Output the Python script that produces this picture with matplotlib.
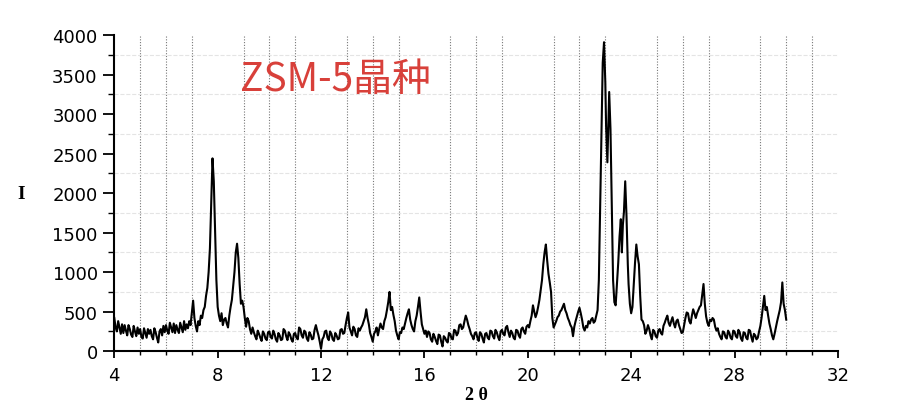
import matplotlib

matplotlib.use("Agg")
import matplotlib.pyplot as plt
import numpy as np
from matplotlib.ticker import MultipleLocator

# XRD pattern (2θ in degrees, intensity in counts)
two_theta = [
    4.0, 4.05, 4.1, 4.15, 4.2, 4.25, 4.3, 4.35, 4.4, 4.45,
    4.5, 4.55, 4.6, 4.65, 4.7, 4.75, 4.8, 4.85, 4.9, 4.95,
    5.0, 5.05, 5.1, 5.15, 5.2, 5.25, 5.3, 5.35, 5.4, 5.45,
    5.5, 5.55, 5.6, 5.65, 5.7, 5.75, 5.8, 5.85, 5.9, 5.95,
    6.0, 6.05, 6.1, 6.15, 6.2, 6.25, 6.3, 6.35, 6.4, 6.45,
    6.5, 6.55, 6.6, 6.65, 6.7, 6.75, 6.8, 6.85, 6.9, 6.95,
    7.0, 7.05, 7.1, 7.15, 7.2, 7.25, 7.3, 7.35, 7.4, 7.45,
    7.5, 7.55, 7.6, 7.65, 7.7, 7.75, 7.8, 7.85, 7.9, 7.95,
    8.0, 8.05, 8.1, 8.15, 8.2, 8.25, 8.3, 8.35, 8.4, 8.45,
    8.5, 8.55, 8.6, 8.65, 8.7, 8.75, 8.8, 8.85, 8.9, 8.95,
    9.0, 9.05, 9.1, 9.15, 9.2, 9.25, 9.3, 9.35, 9.4, 9.45,
    9.5, 9.55, 9.6, 9.65, 9.7, 9.75, 9.8, 9.85, 9.9, 9.95,
    10.0, 10.05, 10.1, 10.15, 10.2, 10.25, 10.3, 10.35, 10.4, 10.45,
    10.5, 10.55, 10.6, 10.65, 10.7, 10.75, 10.8, 10.85, 10.9, 10.95,
    11.0, 11.05, 11.1, 11.15, 11.2, 11.25, 11.3, 11.35, 11.4, 11.45,
    11.5, 11.55, 11.6, 11.65, 11.7, 11.75, 11.8, 11.85, 11.9, 11.95,
    12.0, 12.05, 12.1, 12.15, 12.2, 12.25, 12.3, 12.35, 12.4, 12.45,
    12.5, 12.55, 12.6, 12.65, 12.7, 12.75, 12.8, 12.85, 12.9, 12.95,
    13.0, 13.05, 13.1, 13.15, 13.2, 13.25, 13.3, 13.35, 13.4, 13.45,
    13.5, 13.55, 13.6, 13.65, 13.7, 13.75, 13.8, 13.85, 13.9, 13.95,
    14.0, 14.05, 14.1, 14.15, 14.2, 14.25, 14.3, 14.35, 14.4, 14.45,
    14.5, 14.55, 14.6, 14.65, 14.7, 14.75, 14.8, 14.85, 14.9, 14.95,
    15.0, 15.05, 15.1, 15.15, 15.2, 15.25, 15.3, 15.35, 15.4, 15.45,
    15.5, 15.55, 15.6, 15.65, 15.7, 15.75, 15.8, 15.85, 15.9, 15.95,
    16.0, 16.05, 16.1, 16.15, 16.2, 16.25, 16.3, 16.35, 16.4, 16.45,
    16.5, 16.55, 16.6, 16.65, 16.7, 16.75, 16.8, 16.85, 16.9, 16.95,
    17.0, 17.05, 17.1, 17.15, 17.2, 17.25, 17.3, 17.35, 17.4, 17.45,
    17.5, 17.55, 17.6, 17.65, 17.7, 17.75, 17.8, 17.85, 17.9, 17.95,
    18.0, 18.05, 18.1, 18.15, 18.2, 18.25, 18.3, 18.35, 18.4, 18.45,
    18.5, 18.55, 18.6, 18.65, 18.7, 18.75, 18.8, 18.85, 18.9, 18.95,
    19.0, 19.05, 19.1, 19.15, 19.2, 19.25, 19.3, 19.35, 19.4, 19.45,
    19.5, 19.55, 19.6, 19.65, 19.7, 19.75, 19.8, 19.85, 19.9, 19.95,
    20.0, 20.05, 20.1, 20.15, 20.2, 20.25, 20.3, 20.35, 20.4, 20.45,
    20.5, 20.55, 20.6, 20.65, 20.7, 20.75, 20.8, 20.85, 20.9, 20.95,
    21.0, 21.05, 21.1, 21.15, 21.2, 21.25, 21.3, 21.35, 21.4, 21.45,
    21.5, 21.55, 21.6, 21.65, 21.7, 21.75, 21.8, 21.85, 21.9, 21.95,
    22.0, 22.05, 22.1, 22.15, 22.2, 22.25, 22.3, 22.35, 22.4, 22.45,
    22.5, 22.55, 22.6, 22.65, 22.7, 22.75, 22.8, 22.85, 22.9, 22.95,
    23.0, 23.03, 23.08, 23.12, 23.15, 23.2, 23.25, 23.3, 23.35, 23.4,
    23.45, 23.5, 23.55, 23.6, 23.64, 23.68, 23.72, 23.77, 23.82, 23.87,
    23.9, 23.95, 24.0, 24.05, 24.1, 24.15, 24.2, 24.25, 24.3, 24.35,
    24.4, 24.45, 24.5, 24.55, 24.6, 24.65, 24.7, 24.75, 24.8, 24.85,
    24.9, 24.95, 25.0, 25.05, 25.1, 25.15, 25.2, 25.25, 25.3, 25.35,
    25.4, 25.45, 25.5, 25.55, 25.6, 25.65, 25.7, 25.75, 25.8, 25.85,
    25.9, 25.95, 26.0, 26.05, 26.1, 26.15, 26.2, 26.25, 26.3, 26.35,
    26.4, 26.45, 26.5, 26.55, 26.6, 26.65, 26.7, 26.75, 26.8, 26.85,
    26.9, 26.95, 27.0, 27.05, 27.1, 27.15, 27.2, 27.25, 27.3, 27.35,
    27.4, 27.45, 27.5, 27.55, 27.6, 27.65, 27.7, 27.75, 27.8, 27.85,
    27.9, 27.95, 28.0, 28.05, 28.1, 28.15, 28.2, 28.25, 28.3, 28.35,
    28.4, 28.45, 28.5, 28.55, 28.6, 28.65, 28.7, 28.75, 28.8, 28.85,
    28.9, 28.95, 29.0, 29.05, 29.1, 29.15, 29.2, 29.25, 29.3, 29.35,
    29.4, 29.45, 29.5, 29.55, 29.6, 29.65, 29.7, 29.75, 29.8, 29.85,
    29.9, 29.95, 30.0,
]
intensity = [
    420, 300, 250, 380, 300, 220, 340, 230, 330, 260,
    200, 330, 280, 210, 180, 320, 250, 190, 300, 220,
    280, 180, 160, 290, 230, 170, 280, 220, 270, 190,
    150, 290, 240, 170, 110, 250, 280, 200, 320, 240,
    330, 260, 220, 360, 300, 240, 350, 230, 330, 270,
    230, 360, 300, 240, 380, 270, 340, 290, 380, 330,
    480, 640, 420, 320, 250, 380, 330, 450, 420, 520,
    560, 700, 800, 1000, 1300, 1850, 2440, 2150, 1500, 900,
    560, 450, 380, 480, 330, 400, 420, 350, 300, 450,
    560, 650, 820, 1000, 1250, 1360, 1180, 850, 600, 640,
    560, 420, 310, 420, 380, 280, 220, 300, 240, 190,
    150, 260, 220, 170, 130, 250, 220, 160, 140, 240,
    250, 180, 160, 260, 220, 150, 120, 230, 200, 140,
    150, 280, 260, 190, 140, 240, 210, 150, 120, 220,
    230, 170, 150, 300, 280, 200, 170, 260, 240, 160,
    130, 240, 210, 150, 160, 270, 330, 260, 200, 120,
    30, 150, 180, 250, 260, 170, 140, 250, 220, 150,
    130, 230, 200, 150, 160, 270, 280, 220, 230, 330,
    420, 490, 300, 250, 200, 310, 280, 200, 180, 290,
    260, 300, 330, 380, 430, 530, 420, 340, 230, 180,
    120, 220, 250, 300, 200, 280, 350, 300, 280, 380,
    430, 520, 620, 750, 520, 560, 460, 380, 260, 200,
    150, 240, 230, 300, 280, 350, 420, 480, 530, 400,
    330, 280, 250, 380, 450, 560, 680, 500, 340, 280,
    220, 260, 180, 250, 230, 150, 120, 220, 180, 130,
    90, 210, 200, 120, 60, 190, 170, 130, 110, 230,
    220, 160, 150, 270, 260, 200, 230, 330, 340, 280,
    300, 380, 450, 400, 330, 280, 220, 190, 150, 230,
    240, 170, 130, 240, 220, 160, 110, 220, 230, 170,
    150, 260, 250, 190, 160, 270, 240, 180, 140, 250,
    270, 220, 200, 300, 320, 240, 180, 260, 230, 170,
    150, 270, 260, 200, 170, 280, 300, 250, 220, 310,
    330, 300, 380, 450, 580, 500, 430, 480, 560, 650,
    780, 900, 1100, 1250, 1350, 1150, 980, 870, 750, 420,
    300, 340, 380, 430, 450, 500, 520, 560, 600, 520,
    480, 420, 380, 330, 300, 190, 310, 380, 440, 500,
    550, 480, 400, 300, 260, 320, 300, 380, 350, 400,
    420, 360, 380, 450, 520, 900, 1800, 2700, 3650, 3910,
    3400, 2850, 2390, 2900, 3280, 2810, 1840, 900, 620, 580,
    850, 1120, 1450, 1670, 1250, 1600, 1760, 2150, 1710, 1100,
    850, 600, 480, 560, 850, 1120, 1350, 1200, 1100, 700,
    400, 380, 330, 220, 260, 330, 280, 200, 150, 270,
    250, 190, 170, 260, 280, 230, 210, 320, 360, 410,
    450, 360, 320, 380, 430, 350, 300, 380, 400, 330,
    280, 230, 240, 330, 420, 490, 480, 380, 350, 450,
    530, 480, 420, 480, 520, 560, 580, 720, 850, 600,
    440, 360, 320, 400, 380, 420, 400, 310, 260, 290,
    220, 180, 150, 250, 240, 180, 160, 260, 230, 170,
    150, 260, 250, 190, 170, 270, 240, 160, 130, 240,
    230, 170, 150, 270, 260, 180, 120, 220, 200, 150,
    170, 250, 320, 430, 560, 700, 520, 560, 450, 350,
    280, 200, 150, 220, 300, 380, 450, 520, 620, 870,
    600, 520, 400,
]
assert len(two_theta) == len(intensity)

TITLE = "ZSM-5晶种"
TITLE_COLOR = "#d8403a"

fig = plt.figure(figsize=(9, 4.1), dpi=100)
ax = fig.add_axes([0.127, 0.141, 0.804, 0.771])

ax.plot(np.array(two_theta), np.array(intensity), color="black", lw=1.5)

ax.set_xlim(4, 32)
ax.set_ylim(0, 4000)
ax.xaxis.set_major_locator(MultipleLocator(4))
ax.xaxis.set_minor_locator(MultipleLocator(1))
ax.yaxis.set_major_locator(MultipleLocator(500))
ax.yaxis.set_minor_locator(MultipleLocator(250))

# dotted verticals at the minor x ticks, faint horizontals at the minor y ticks
ax.xaxis.grid(True, which="minor", ls=(0, (1, 1.5)), color="#777777", lw=0.8)
ax.yaxis.grid(True, which="minor", ls="--", color="#e4e4e4", lw=0.8)
ax.set_axisbelow(True)

for side in ("top", "right"):
    ax.spines[side].set_visible(False)
for side in ("left", "bottom"):
    ax.spines[side].set_linewidth(1.5)

ax.tick_params(which="major", direction="out", length=8, width=1.3,
               labelsize=13, pad=4)
ax.tick_params(which="minor", direction="out", length=4, width=1.0)
ax.tick_params(axis="x", which="major", length=5, pad=6)
ax.tick_params(axis="x", which="minor", length=3)

ax.set_xlabel("2 θ", family=["Liberation Serif", "DejaVu Serif"],
              fontweight="bold", fontsize=13, labelpad=1)
ax.set_ylabel("I", family=["Liberation Serif", "DejaVu Serif"],
              fontweight="bold", fontsize=14, rotation=0, labelpad=22,
              va="center")

ax.text(8.87, 3440, TITLE, color=TITLE_COLOR, fontsize=28, va="center",
        ha="left", family=["Noto Sans CJK SC", "DejaVu Sans"])

fig.savefig("out.png", dpi=100)
